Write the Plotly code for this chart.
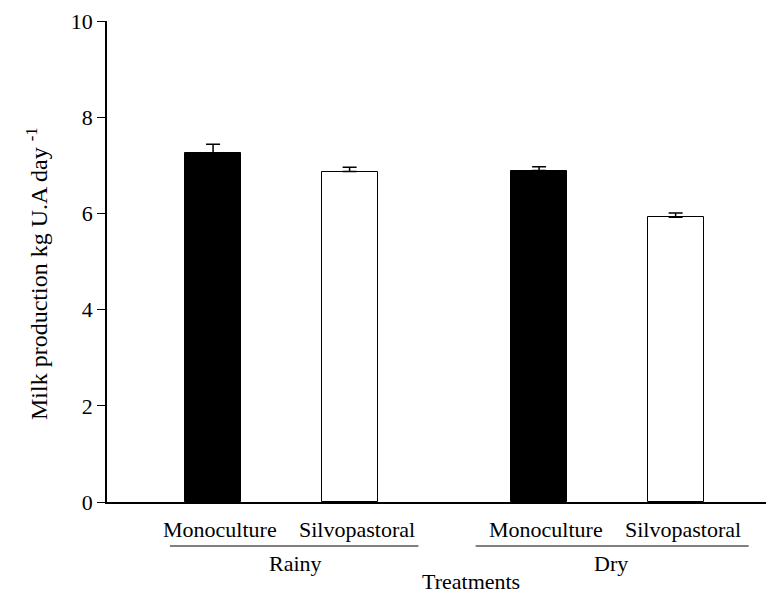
import plotly.graph_objects as go

seasons = ["Rainy", "Dry"]
treatments = ["Monoculture", "Silvopastoral"]
# values[season][treatment]
milk = {"Rainy": [7.26, 6.87], "Dry": [6.89, 5.92]}
err = {"Rainy": [0.18, 0.09], "Dry": [0.08, 0.09]}

bar_colors = {"Monoculture": "black", "Silvopastoral": "white"}
FONT = "Times New Roman, Liberation Serif, DejaVu Serif, serif"

group_step = 2.388   # distance between season groups (in bar-spacing units)
bar_w = 0.41

fig = go.Figure()
for ti, t in enumerate(treatments):
    xs = [gi * group_step + ti for gi in range(len(seasons))]
    fig.add_trace(go.Bar(
        x=xs,
        y=[milk[s][ti] for s in seasons],
        width=bar_w,
        marker=dict(color=bar_colors[t], line=dict(color="black", width=1)),
        error_y=dict(type="data", symmetric=False,
                     array=[err[s][ti] for s in seasons],
                     arrayminus=[0] * len(seasons),
                     color="black", thickness=1.5, width=7),
        showlegend=False,
    ))

annotations = []
shapes = []
for gi, s in enumerate(seasons):
    for ti, t in enumerate(treatments):
        annotations.append(dict(
            x=gi * group_step + ti, y=0, xref="x", yref="paper",
            text=t, showarrow=False, xshift=7, yshift=-27, yanchor="middle",
            font=dict(family=FONT, size=22, color="black")))
    center = gi * group_step + 0.5
    annotations.append(dict(
        x=center, y=0, xref="x", yref="paper", text=s, showarrow=False,
        xshift=14 if gi == 0 else 4, yshift=-61, yanchor="middle",
        font=dict(family=FONT, size=22, color="black")))
    half = 0.91 if gi == 0 else 1.0
    off = 0.094 if gi == 0 else 0.035
    shapes.append(dict(type="line", xref="x", yref="paper",
                       x0=center + off - half, x1=center + off + half,
                       y0=-0.0915, y1=-0.0915,
                       line=dict(color="black", width=1)))

annotations.append(dict(
    x=0.5, y=0, xref="paper", yref="paper", text="Treatments",
    showarrow=False, xshift=34, yshift=-79, yanchor="middle",
    font=dict(family=FONT, size=22, color="black")))

annotations.append(dict(
    x=0, y=0.474, xref="paper", yref="paper",
    text="Milk production kg U.A day <sup>-1</sup>", textangle=-90,
    showarrow=False, xshift=-70, xanchor="center", yanchor="middle",
    font=dict(family=FONT, size=24, color="black")))

fig.update_layout(
    width=766, height=594,
    margin=dict(l=107, r=0, t=21, b=92),
    plot_bgcolor="white", paper_bgcolor="white",
    font=dict(family=FONT, color="black"),
    bargap=0,
    annotations=annotations, shapes=shapes,
    xaxis=dict(range=[-0.777, 4.05], showticklabels=False, ticks="",
               showgrid=False, zeroline=False, showline=True,
               linecolor="black", linewidth=1.5),
    yaxis=dict(range=[0, 10], tickvals=[0, 2, 4, 6, 8, 10],
               ticks="outside", ticklen=8, tickwidth=1.2, tickcolor="black",
               showgrid=False, zeroline=False, showline=True,
               linecolor="black", linewidth=1.5,
               tickfont=dict(family=FONT, size=22, color="black")),
)

fig.write_html("out.html")
